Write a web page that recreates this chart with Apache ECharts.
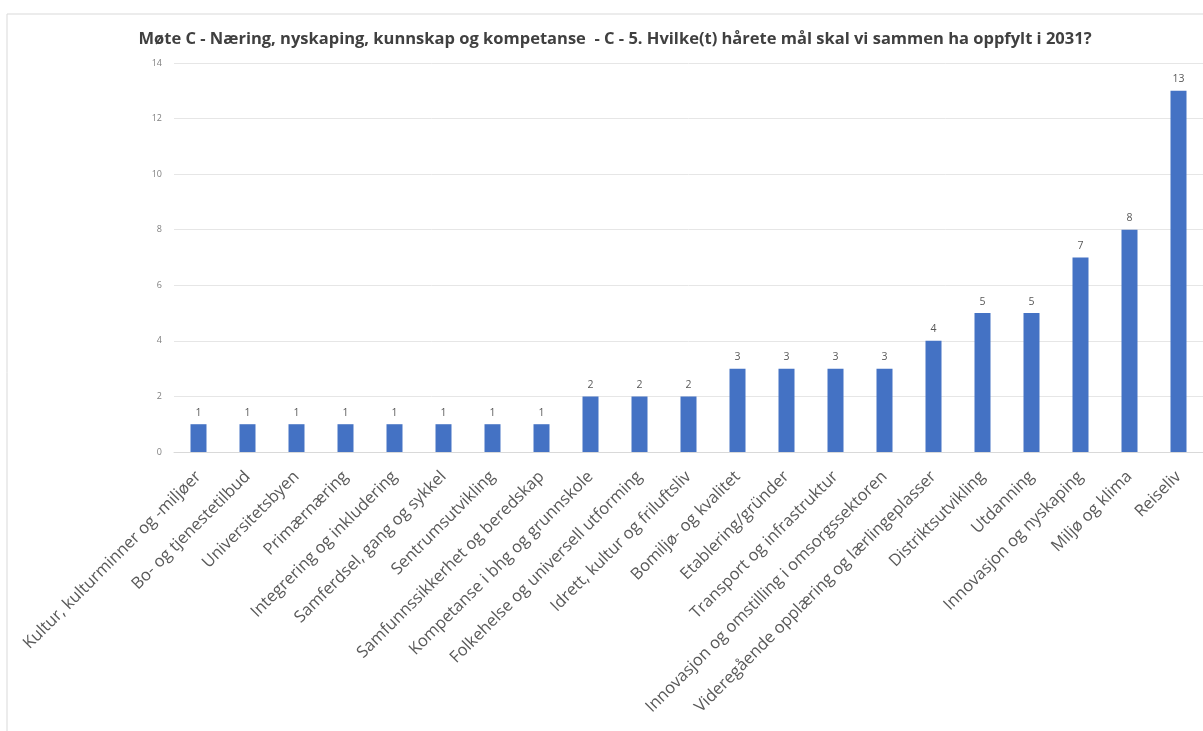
<!DOCTYPE html>
<html>
<head>
<meta charset="utf-8">
<script src="https://cdn.jsdelivr.net/npm/echarts@6/dist/echarts.min.js"></script>
<style>
html,body{margin:0;padding:0;background:#fff;}
#chart{width:1203px;height:731px;}
</style>
</head>
<body>
<div id="chart"></div>
<script>
const titleText = "Møte C - Næring, nyskaping, kunnskap og kompetanse  - C - 5. Hvilke(t) hårete mål skal vi sammen ha oppfylt i 2031?";
const categories = [
  "Kultur, kulturminner og -miljøer",
  "Bo- og tjenestetilbud",
  "Universitetsbyen",
  "Primærnæring",
  "Integrering og inkludering",
  "Samferdsel, gang og sykkel",
  "Sentrumsutvikling",
  "Samfunnssikkerhet og beredskap",
  "Kompetanse i bhg og grunnskole",
  "Folkehelse og universell utforming",
  "Idrett, kultur og friluftsliv",
  "Bomiljø- og kvalitet",
  "Etablering/gründer",
  "Transport og infrastruktur",
  "Innovasjon og omstilling i omsorgssektoren",
  "Videregående opplæring og lærlingeplasser",
  "Distriktsutvikling",
  "Utdanning",
  "Innovasjon og nyskaping",
  "Miljø og klima",
  "Reiseliv"
];
const values = [1,1,1,1,1,1,1,1,2,2,2,3,3,3,3,4,5,5,7,8,13];
const yMin = 0, yMax = 14, yStep = 2;

const chart = echarts.init(document.getElementById('chart'), null, {renderer:'canvas'});
const font = "'Open Sans', 'Liberation Sans', sans-serif";
chart.setOption({
  animation: false,
  backgroundColor: '#ffffff',
  graphic: [
    {type:'line', shape:{x1:7,y1:14,x2:1203,y2:14}, style:{stroke:'#d9d9d9', lineWidth:1}},
    {type:'line', shape:{x1:7,y1:14,x2:7,y2:731}, style:{stroke:'#d9d9d9', lineWidth:1}}
  ],
  title: {
    text: titleText,
    left: 610, top: 26, textAlign: 'center',
    textStyle: {fontFamily: font, fontSize: 16.5, fontWeight: 'bold', color: '#404040'}
  },
  grid: {left: 174, right: 0, top: 63, bottom: 279, containLabel: false},
  xAxis: {
    type: 'category',
    data: categories,
    axisLine: {show: true, lineStyle: {color: '#d9d9d9'}},
    axisTick: {show: false},
    axisLabel: {
      interval: 0, rotate: 45, margin: 22,
      fontFamily: font, fontSize: 16.5, color: '#595959'
    }
  },
  yAxis: {
    type: 'value',
    min: yMin, max: yMax, interval: yStep,
    axisLine: {show: false},
    axisTick: {show: false},
    axisLabel: {fontFamily: font, fontSize: 9, color: '#7f7f7f', margin: 12},
    splitLine: {lineStyle: {color: '#e6e6e6'}}
  },
  series: [{
    type: 'bar',
    data: values,
    barWidth: 16,
    itemStyle: {color: '#4472c4'},
    label: {show: true, position: 'top', distance: 6, fontFamily: font, fontSize: 10.5, color: '#595959'}
  }]
});
</script>
</body>
</html>
